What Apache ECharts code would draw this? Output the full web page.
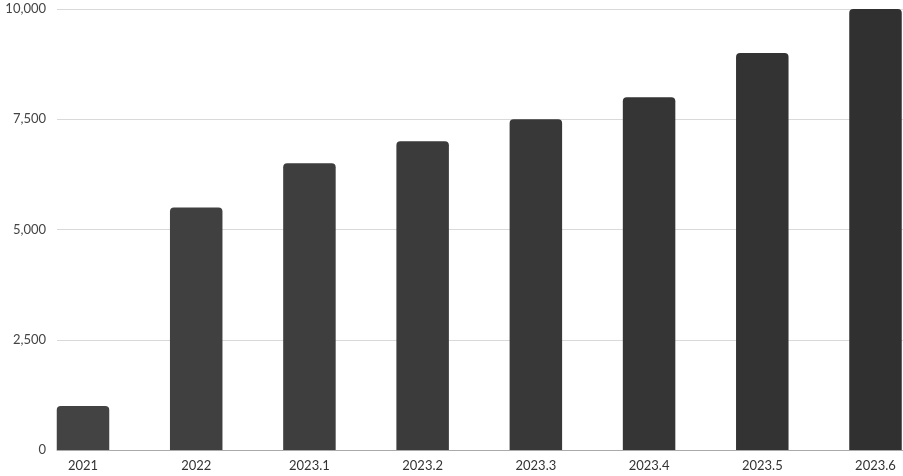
<!DOCTYPE html>
<html>
<head>
<meta charset="utf-8">
<script src="https://cdn.jsdelivr.net/npm/echarts@6/dist/echarts.min.js"></script>
<style>html,body{margin:0;padding:0;background:#fff;}#c{width:903px;height:476px;}</style>
</head>
<body>
<div id="c"></div>
<script>
var categories = ['2021', '2022', '2023.1', '2023.2', '2023.3', '2023.4', '2023.5', '2023.6'];
var values = [1000, 5500, 6500, 7000, 7500, 8000, 9000, 10000];
var yMin = 0, yMax = 10000, yInterval = 2500;

var FONT = 'Lato, "Noto Sans", sans-serif';
function barColor(i) {
  var n = categories.length - 1;
  var v = Math.round(0x43 + (0x30 - 0x43) * (i / n));
  var h = v.toString(16);
  return '#' + h + h + h;
}

var chart = echarts.init(document.getElementById('c'), null, {renderer: 'canvas'});
chart.setOption({
  animation: false,
  grid: [
    {left: 57, right: 0, top: 9, bottom: 26, containLabel: false},
    {left: 83, right: 27.5, top: 9, bottom: 26, containLabel: false}
  ],
  xAxis: [
    {
      gridIndex: 0, type: 'value', min: 0, max: 1,
      axisLine: {show: true, onZero: false, lineStyle: {color: '#aaaaaa', width: 1}},
      axisTick: {show: false}, axisLabel: {show: false}, splitLine: {show: false}
    },
    {
      gridIndex: 1, type: 'category', data: categories, boundaryGap: false,
      axisLine: {show: false}, axisTick: {show: false},
      axisLabel: {color: '#333333', fontFamily: FONT, fontSize: 13, margin: 9, interval: 0}
    }
  ],
  yAxis: [
    {
      gridIndex: 0, type: 'value', min: yMin, max: yMax, interval: yInterval,
      axisLine: {show: false}, axisTick: {show: false},
      axisLabel: {
        color: '#444444', fontFamily: FONT, fontSize: 13, margin: 11,
        formatter: function (v) { return v.toLocaleString('en-US'); }
      },
      splitLine: {show: true, lineStyle: {color: '#d9d9d9', width: 1}}
    },
    {
      gridIndex: 1, type: 'value', min: yMin, max: yMax, interval: yInterval,
      show: false, splitLine: {show: false}
    }
  ],
  series: [{
    type: 'bar',
    xAxisIndex: 1, yAxisIndex: 1,
    data: values,
    barWidth: 52.5,
    clip: false,
    itemStyle: {
      borderRadius: [4, 4, 0, 0],
      color: function (p) { return barColor(p.dataIndex); }
    }
  }]
});
</script>
</body>
</html>
